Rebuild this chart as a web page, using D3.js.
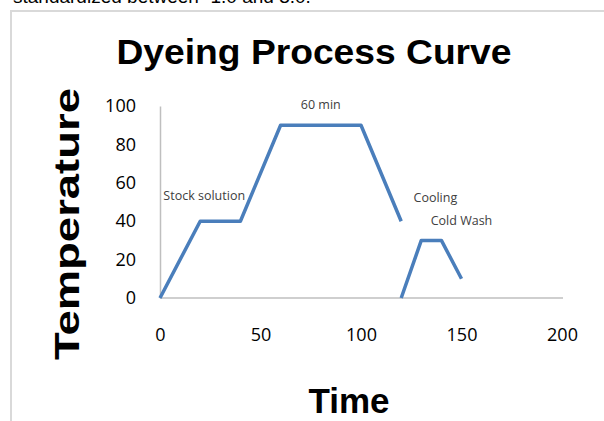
<!DOCTYPE html>
<html>
<head>
<meta charset="utf-8">
<script src="https://cdn.jsdelivr.net/npm/d3@7.9.0/dist/d3.min.js"></script>
<style>
  html, body { margin: 0; padding: 0; background: #fff; }
  svg { display: block; }
</style>
</head>
<body>
<svg id="chart" width="604" height="421"></svg>
<script>
// === Data ===
const times = [0, 20, 40, 60, 100, 120, null, 120, 130, 140, 150];
const temps = [0, 40, 40, 90, 90, 40, null, 0, 30, 30, 10];
const xTicks = [0, 50, 100, 150, 200];
const yTicks = [0, 20, 40, 60, 80, 100];
const notes = [
  { label: '60 min', t: 80, v: 100 },
  { label: 'Stock solution', t: 22, v: 53 },
  { label: 'Cooling', t: 137, v: 52 },
  { label: 'Cold Wash', t: 150, v: 40 }
];

const svg = d3.select('#chart');
const blue = '#4a7ebb';

// cut-off text from the page above the chart
svg.append('text')
  .attr('x', 13).attr('y', 3)
  .attr('font-family', 'Liberation Sans, Arial, sans-serif')
  .attr('font-size', 19)
  .attr('fill', '#000')
  .text('standardized between -1.0 and 3.0.');

// chart frame
svg.append('rect')
  .attr('x', 11).attr('y', 11)
  .attr('width', 700).attr('height', 440)
  .attr('fill', 'none')
  .attr('stroke', '#d9d9d9')
  .attr('stroke-width', 2);

// === Scales ===
const x = d3.scaleLinear().domain([0, 200]).range([160, 562]);
const y = d3.scaleLinear().domain([0, 100]).range([298, 106]);

// axes
const xAxis = svg.append('g')
  .attr('transform', `translate(0,${y(0)})`)
  .call(d3.axisBottom(x).tickValues(xTicks).tickSize(0).tickPadding(30));
const yAxis = svg.append('g')
  .attr('transform', `translate(${x(0)},0)`)
  .call(d3.axisLeft(y).tickValues(yTicks).tickSize(0).tickPadding(24));

[xAxis, yAxis].forEach(ax => {
  ax.select('.domain').attr('stroke', '#bfbfbf').attr('stroke-width', 1.5);
  ax.selectAll('text')
    .attr('font-family', 'Open Sans, sans-serif')
    .attr('font-size', 18)
    .attr('fill', '#000');
});
xAxis.select('.domain').attr('d', `M${x(0)},0H${x(200) + 1}`);

// === Line ===
const data = times.map((t, i) => ({ t, v: temps[i] }));
const line = d3.line()
  .defined(d => d.t !== null)
  .x(d => x(d.t))
  .y(d => y(d.v));

svg.append('path')
  .datum(data)
  .attr('d', line)
  .attr('fill', 'none')
  .attr('stroke', blue)
  .attr('stroke-width', 3.5)
  .attr('stroke-linejoin', 'round');

// data labels
svg.selectAll('.note')
  .data(notes)
  .enter().append('text')
  .attr('class', 'note')
  .attr('x', d => x(d.t))
  .attr('y', d => y(d.v))
  .attr('text-anchor', 'middle')
  .attr('dominant-baseline', 'middle')
  .attr('font-family', 'Open Sans, sans-serif')
  .attr('font-size', 12.5)
  .attr('fill', '#404040')
  .text(d => d.label);

// === Titles ===
svg.append('text')
  .attr('x', 314).attr('y', 64)
  .attr('text-anchor', 'middle')
  .attr('font-family', 'Liberation Sans, Arial, sans-serif')
  .attr('font-weight', 'bold')
  .attr('font-size', 35)
  .attr('textLength', 395)
  .attr('lengthAdjust', 'spacingAndGlyphs')
  .text('Dyeing Process Curve');

svg.append('text')
  .attr('x', 349).attr('y', 413)
  .attr('text-anchor', 'middle')
  .attr('font-family', 'Liberation Sans, Arial, sans-serif')
  .attr('font-weight', 'bold')
  .attr('font-size', 35)
  .text('Time');

svg.append('text')
  .attr('transform', 'translate(79,224) rotate(-90)')
  .attr('text-anchor', 'middle')
  .attr('font-family', 'Liberation Sans, Arial, sans-serif')
  .attr('font-weight', 'bold')
  .attr('font-size', 35)
  .attr('textLength', 272)
  .attr('lengthAdjust', 'spacingAndGlyphs')
  .text('Temperature');
</script>
</body>
</html>
